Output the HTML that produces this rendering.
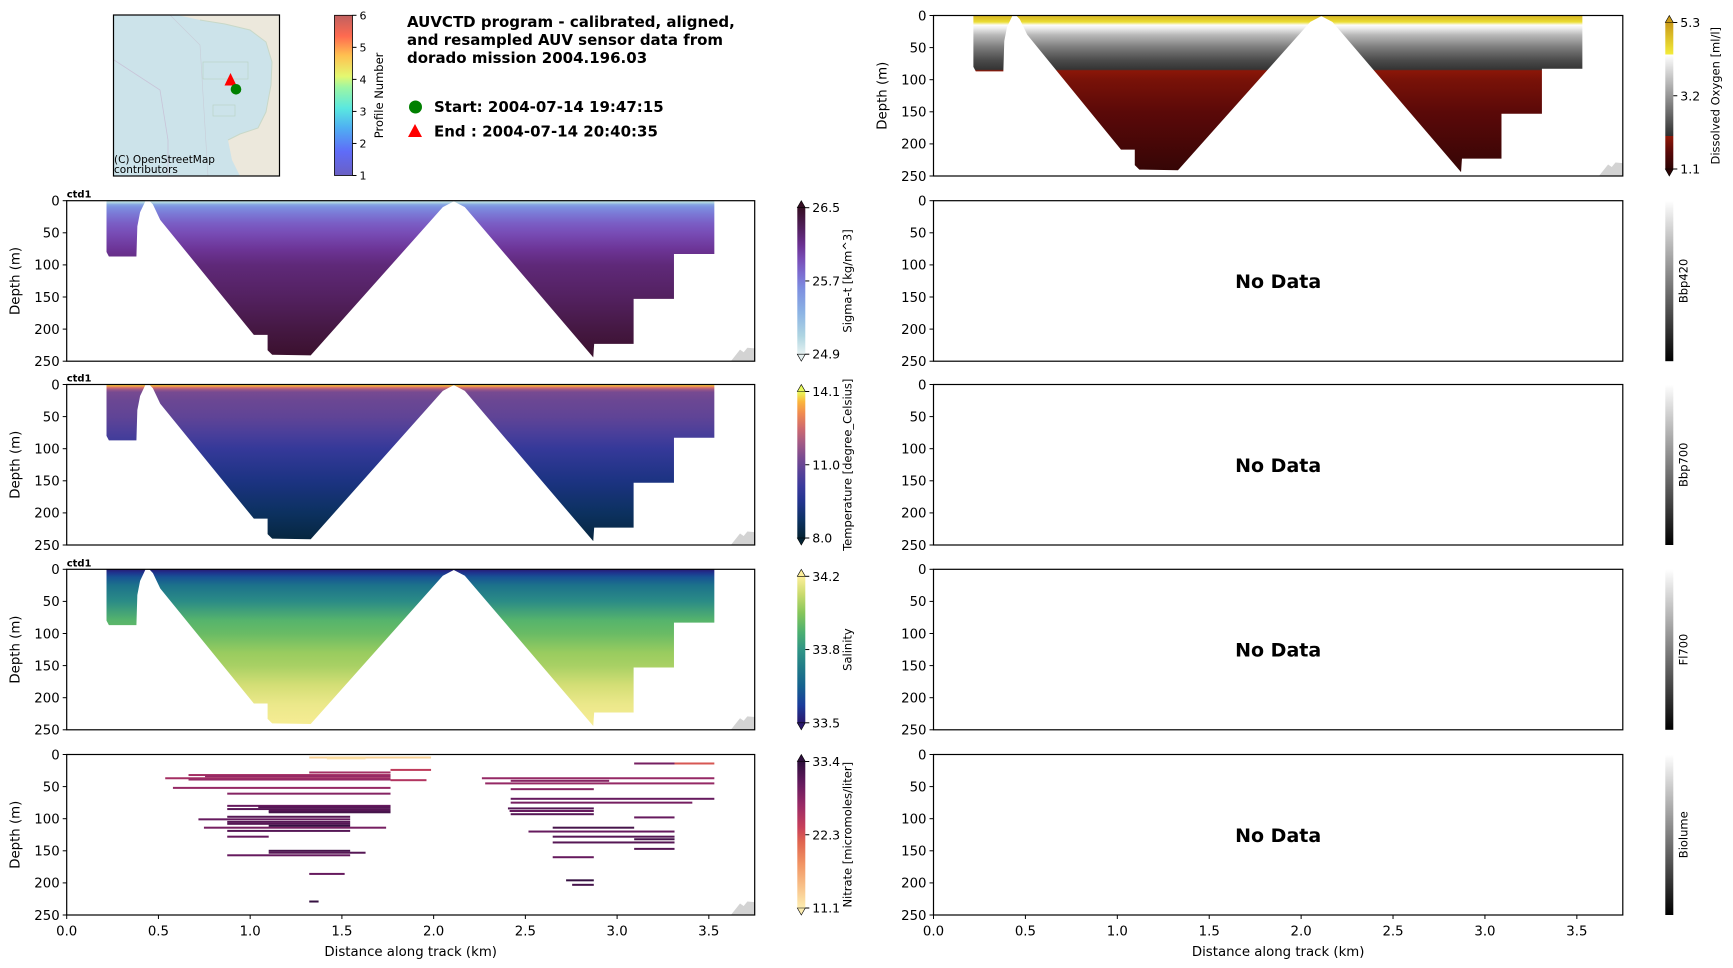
<!DOCTYPE html>
<html><head><meta charset="utf-8">
<style>
html,body{margin:0;padding:0;background:#fff;}
svg{display:block;}
text{font-family:"DejaVu Sans","Liberation Sans",sans-serif;fill:#000;}
</style></head>
<body>
<svg id="fig" xmlns="http://www.w3.org/2000/svg" width="1733" height="968" viewBox="0 0 1733 968">
<defs id="defs"></defs>
<g>
  <rect x="113.5" y="15" width="166" height="161" fill="#cce3ea"/>
  <path d="M177,15 L279.5,15 L279.5,176 L240,176 L232,160 L228,140 L240,134 L258,128 L266,112 L271,85 L272,62 L266,42 L250,30 L225,24 L200,20 Z" fill="#ece8dc"/>
  <path d="M200,20 L225,24 L250,30 L266,42 L272,62 L271,85 L266,112 L258,128 L240,134 L228,140" fill="none" stroke="#c8d8c8" stroke-width="1"/>
  <path d="M114,60 L160,90 L168,140 L168,176" fill="none" stroke="#c8c4d8" stroke-width="0.8"/>
  <path d="M170,15 L200,45 L208,176" fill="none" stroke="#c8cdd8" stroke-width="0.6"/>
  <rect x="203" y="62" width="45" height="17" fill="none" stroke="#b8d0c0" stroke-width="0.6"/>
  <rect x="213" y="105" width="22" height="11" fill="none" stroke="#b8d0c0" stroke-width="0.6"/>
  <rect x="113.5" y="15" width="166" height="161" fill="none" stroke="#000" stroke-width="1.2"/>
  <polygon points="230.5,73 236.5,85.5 224.5,85.5" fill="#ff0000"/>
  <circle cx="236" cy="89.3" r="5.3" fill="#008000"/>
  <text x="114" y="163" font-size="10.5">(C) OpenStreetMap</text>
  <text x="114" y="173" font-size="10.5">contributors</text>
</g>
<g id="profcb"></g>
<g>
  <text x="407" y="27" font-size="15" font-weight="bold">AUVCTD program - calibrated, aligned,</text>
  <text x="407" y="45" font-size="15" font-weight="bold">and resampled AUV sensor data from</text>
  <text x="407" y="63" font-size="15" font-weight="bold">dorado mission 2004.196.03</text>
  <circle cx="415.5" cy="107" r="6.5" fill="#008000"/>
  <text x="434" y="112" font-size="15" font-weight="bold">Start: 2004-07-14 19:47:15</text>
  <polygon points="415,124 422,137 408,137" fill="#ff0000"/>
  <text x="434" y="136.5" font-size="15" font-weight="bold">End  : 2004-07-14 20:40:35</text>
</g>
<g id="plots"></g>
</svg>
<script>
const xTicks = [0.0, 0.5, 1.0, 1.5, 2.0, 2.5, 3.0, 3.5];
const depthTicks = [0, 50, 100, 150, 200, 250];
const leftBlockKm = [0.217, 0.217, 0.23, 0.38, 0.385, 0.40, 0.43];
const leftBlockDepth = [0, 80, 87, 87, 40, 18, 0];
const mainBlockKm = [0.45, 0.47, 0.51, 1.02, 1.095, 1.095, 1.12, 1.33, 2.05, 2.11, 2.17, 2.87, 2.875, 3.09, 3.09, 3.31, 3.31, 3.53, 3.53];
const mainBlockDepth = [0, 6, 30, 209, 209, 233, 240, 241, 10, 1, 10, 244, 223, 223, 153, 153, 83, 83, 0];
const bathyKm = [3.62, 3.67, 3.69, 3.71, 3.75, 3.75];
const bathyDepth = [250, 232, 236, 229, 230, 250];

const sigmaDepths = [0, 3, 6, 10, 20, 35, 50, 75, 100, 150, 200, 245];
const sigmaValues = [25.0, 25.1, 25.45, 25.6, 25.72, 25.85, 25.94, 26.07, 26.18, 26.27, 26.38, 26.47];
const tempDepths = [0, 2, 5, 8, 12, 25, 50, 75, 100, 150, 200, 245];
const tempValues = [14.0, 13.6, 12.6, 11.8, 11.3, 11.1, 10.9, 10.5, 10.0, 9.3, 8.7, 8.15];
const salDepths = [0, 5, 12, 25, 50, 80, 100, 130, 150, 180, 210, 245];
const salValues = [33.51, 33.56, 33.64, 33.73, 33.82, 33.95, 33.98, 34.05, 34.07, 34.13, 34.17, 34.19];
const doDepths = [0, 5, 10, 15, 20, 30, 50, 70, 84, 86, 100, 150, 200, 245];
const doValues = [4.95, 4.8, 4.55, 4.35, 4.15, 3.6, 2.9, 2.35, 2.1, 2.0, 1.85, 1.6, 1.4, 1.2];

const nitStartKm = [1.322,1.418,1.765,1.322,0.664,0.754,0.537,0.664,1.765,0.579,0.875,0.875,1.044,0.875,1.101,1.101,0.875,0.718,0.875,0.748,0.875,1.101,0.875,0.875,1.101,0.875,1.101,1.322,1.322,
  3.093,3.313,2.263,2.420,2.281,2.420,2.420,2.420,2.405,2.414,2.420,3.093,2.649,2.517,2.649,3.093,2.649,3.093,2.649,2.722,2.755];
const nitEndKm = [1.986,1.629,1.986,1.765,1.765,1.765,1.765,1.765,1.961,1.765,1.765,1.765,1.765,1.765,1.765,1.765,1.545,1.545,1.545,1.741,1.545,1.545,1.545,1.101,1.545,1.545,1.629,1.515,1.373,
  3.313,3.530,3.530,2.957,3.530,2.873,3.530,3.410,2.873,2.873,2.873,3.313,3.093,3.313,3.313,3.313,3.313,3.313,2.873,2.873,2.873];
const nitDepth = [4.7,6,24,28,32,34,37,39,40,52,61,80,82,85,88,90,97,101,105,114,108,111,119,128,150,157,153,186,229,
  14,14,37,41,45,54,69,75,84,88,93,98,114,120,128,132,137,147,160,196,203];
const nitValue = [13,12,24,26,26,27,26,27,25,27,28,30,31,31,31,32,31,30,31,29,31,33,31,30,32,30,31,30,33,
  29,22,27,28,27,28,30,29,31,30,31,30,32,30,31,32,31,31,30,33,32];
const profileTicks = [1, 2, 3, 4, 5, 6];

const cmDense = [[0,'#e6f1f1'],[0.12,'#b0d6e2'],[0.28,'#8cb4e4'],[0.45,'#7c8ee0'],[0.55,'#7b6cd0'],[0.65,'#784db6'],[0.75,'#6a3090'],[0.86,'#52205e'],[1,'#360e24']];
const cmThermal = [[0,'#042333'],[0.12,'#0c3262'],[0.25,'#23348f'],[0.35,'#3a3a9c'],[0.45,'#574298'],[0.55,'#7a4b90'],[0.65,'#a35a85'],[0.75,'#cf6a6e'],[0.85,'#f08a50'],[0.93,'#fbb43c'],[1,'#e8fa5b']];
const cmHaline = [[0,'#2a186c'],[0.12,'#1b3c9b'],[0.25,'#15628f'],[0.38,'#217c88'],[0.5,'#309585'],[0.62,'#4cb070'],[0.75,'#86c65a'],[0.88,'#cbdb6e'],[1,'#fdef9a']];
const cmMatter = [[0,'#fdedb0'],[0.15,'#f8c088'],[0.3,'#f19463'],[0.45,'#e0654f'],[0.55,'#c8405a'],[0.7,'#9a2a66'],[0.85,'#651a5e'],[1,'#2f0f3d']];
const cmDO = [[0,'#2b0404'],[0.11,'#560808'],[0.225,'#901808'],[0.2251,'#2f2f2f'],[0.78,'#ffffff'],[0.7801,'#f3ec3a'],[1,'#c99a18']];
const cmProfile = [[0,'#6a60c4'],[0.15,'#5f6cf8'],[0.3,'#4fb0f2'],[0.42,'#5ae8e0'],[0.55,'#9cf6a4'],[0.62,'#e4f870'],[0.75,'#ffc050'],[0.87,'#ff6a50'],[1,'#c06060']];
const cmGray = [[0,'#000000'],[1,'#ffffff']];

function hex2rgb(h){return [parseInt(h.substr(1,2),16),parseInt(h.substr(3,2),16),parseInt(h.substr(5,2),16)];}
function cmap(stops,t){
  t=Math.max(0,Math.min(1,t));
  for(let i=1;i<stops.length;i++){
    if(t<=stops[i][0]){
      const a=stops[i-1],b=stops[i];const f=(t-a[0])/((b[0]-a[0])||1);
      const ca=hex2rgb(a[1]),cb=hex2rgb(b[1]);
      return 'rgb('+ca.map((v,k)=>Math.round(v+(cb[k]-v)*f)).join(',')+')';
    }
  }
  return stops[stops.length-1][1];
}

const NS='http://www.w3.org/2000/svg';
const plots=document.getElementById('plots');
const defs=document.getElementById('defs');
function mk(tag,attrs,parent){const e=document.createElementNS(NS,tag);for(const k in attrs)e.setAttribute(k,attrs[k]);(parent||plots).appendChild(e);return e;}

const rowTops=[15.5,200.7,384.5,569.3,754.5];
const H=160.5;
const LX=66.7, LW=688, RX=933.5, RW=689.3;
const XMAX=3.75, DMAX=250;

function axisFns(x0,w,top){
  return {xs:km=>x0+km/XMAX*w, ys:d=>top+d/DMAX*H};
}
function drawAxes(g,x0,w,top,showX,showYTitle){
  const {xs,ys}=axisFns(x0,w,top);
  depthTicks.forEach(d=>{
    const t=mk('line',{x1:x0-4,x2:x0,y1:ys(d),y2:ys(d),stroke:'#000','stroke-width':1},g);
    
    
    const l=mk('text',{x:x0-7,y:ys(d)+4.8,'font-size':13.3,'text-anchor':'end'},g);
    
    
    l.textContent=d;
  });
  if(showYTitle){
    const yl=mk('text',{x:0,y:0,'font-size':13.3,'text-anchor':'middle',transform:`translate(${x0-47},${top+H/2}) rotate(-90)`},g);
    
    
    yl.textContent='Depth (m)';
  }
  if(showX){
    xTicks.forEach(k=>{
      const t=mk('line',{x1:xs(k),x2:xs(k),y1:top+H,y2:top+H+4,stroke:'#000','stroke-width':1},g);
      
      
      const l=mk('text',{x:xs(k),y:top+H+20.5,'font-size':13.3,'text-anchor':'middle'},g);
      
      
      l.textContent=k.toFixed(1);
    });
    const xl=mk('text',{x:x0+w/2,y:top+H+41,'font-size':13.3,'text-anchor':'middle'},g);
    
    
    xl.textContent='Distance along track (km)';
  }
}
function frame(g,x0,w,top){
  const r=mk('rect',{x:x0,y:top,width:w,height:H,fill:'none',stroke:'#000','stroke-width':1.2},g);
  
  
}
function poly(xs,ys,kms,ds){return kms.map((k,i)=>xs(k).toFixed(2)+','+ys(ds[i]).toFixed(2)).join(' ');}

let gid=0;
function sectionPanel(name,x0,w,top,depths,vals,stops,vmin,vmax){
  const g=mk('g',{});
  
  
  const {xs,ys}=axisFns(x0,w,top);
  const id='grad'+(gid++);
  const lg=mk('linearGradient',{id:id,gradientUnits:'userSpaceOnUse',x1:0,x2:0,y1:ys(0),y2:ys(DMAX)},defs);
  depths.forEach((d,i)=>{
    mk('stop',{offset:(d/DMAX).toFixed(4),'stop-color':cmap(stops,(vals[i]-vmin)/(vmax-vmin))},lg);
  });
  const a=mk('polygon',{points:poly(xs,ys,leftBlockKm,leftBlockDepth),fill:`url(#${id})`},g);
  
  
  const b=mk('polygon',{points:poly(xs,ys,mainBlockKm,mainBlockDepth),fill:`url(#${id})`},g);
  
  
  const c=mk('polygon',{points:poly(xs,ys,bathyKm,bathyDepth),fill:'#d3d3d3'},g);
  
  
  frame(g,x0,w,top);
  return g;
}
function label(g,x0,top){
  const t=mk('text',{x:x0,y:top-3,'font-size':10,'font-weight':'bold'},g);
  
  
  t.textContent='ctd1';
}
function colorbar(name,cx,top,stops,ticks,tickPos,title,extend){
  const g=mk('g',{});
  
  
  const w=8; const tri=extend?7:0;
  const y0=top+tri, y1=top+H-tri;
  const id='cb'+(gid++);
  const lg=mk('linearGradient',{id:id,x1:0,x2:0,y1:1,y2:0},defs);
  stops.forEach(s=>mk('stop',{offset:s[0],'stop-color':s[1]},lg));
  mk('rect',{x:cx,y:y0,width:w,height:y1-y0,fill:`url(#${id})`},g);
  if(extend){
    mk('polygon',{points:`${cx},${y0} ${cx+w/2},${top} ${cx+w},${y0}`,fill:stops[stops.length-1][1],stroke:'#000','stroke-width':0.6},g);
    mk('polygon',{points:`${cx},${y1} ${cx+w/2},${top+H} ${cx+w},${y1}`,fill:stops[0][1],stroke:'#000','stroke-width':0.6},g);
  }
  ticks.forEach((t,i)=>{
    const y=y1-(y1-y0)*tickPos[i];
    mk('line',{x1:cx+w,x2:cx+w+4,y1:y,y2:y,stroke:'#000','stroke-width':1},g);
    const l=mk('text',{x:cx+w+7,y:y+4.5,'font-size':12.5},g);
    
    
    l.textContent=t;
  });
  const tl=mk('text',{x:0,y:0,'font-size':11.5,'text-anchor':'middle',transform:`translate(${cx+(ticks.length?54:22)},${top+H/2}) rotate(-90)`},g);
  
  
  tl.textContent=title;
}

{
  const g=sectionPanel('dissolved-oxygen',RX,RW,rowTops[0],doDepths,doValues,cmDO,1.1,5.3);
  drawAxes(g,RX,RW,rowTops[0],false,true);
}
{
  const g=sectionPanel('sigma-t',LX,LW,rowTops[1],sigmaDepths,sigmaValues,cmDense,24.9,26.5);
  drawAxes(g,LX,LW,rowTops[1],false,true); label(g,LX,rowTops[1]);
  const g2=sectionPanel('temperature',LX,LW,rowTops[2],tempDepths,tempValues,cmThermal,8.0,14.1);
  drawAxes(g2,LX,LW,rowTops[2],false,true); label(g2,LX,rowTops[2]);
  const g3=sectionPanel('salinity',LX,LW,rowTops[3],salDepths,salValues,cmHaline,33.5,34.2);
  drawAxes(g3,LX,LW,rowTops[3],false,true); label(g3,LX,rowTops[3]);
}
{
  const top=rowTops[4];
  const g=mk('g',{});
  
  
  const {xs,ys}=axisFns(LX,LW,top);
  nitStartKm.forEach((k,i)=>{
    const r=mk('rect',{x:xs(k),y:ys(nitDepth[i])-1,width:xs(nitEndKm[i])-xs(k),height:2,fill:cmap(cmMatter,(nitValue[i]-11.1)/(33.4-11.1))},g);
    
    
  });
  const c=mk('polygon',{points:poly(xs,ys,bathyKm,bathyDepth),fill:'#d3d3d3'},g);
  
  
  frame(g,LX,LW,top);
  drawAxes(g,LX,LW,top,true,true);
}
const noDataNames=['Bbp420','Bbp700','Fl700','Biolume'];
noDataNames.forEach((n,i)=>{
  const top=rowTops[i+1];
  const g=mk('g',{});
  
  
  frame(g,RX,RW,top);
  drawAxes(g,RX,RW,top,i===3,false);
  const t=mk('text',{x:RX+RW/2,y:top+H/2+7,'font-size':19,'font-weight':'bold','text-anchor':'middle'},g);
  
  
  t.textContent='No Data';
  colorbar(n.toLowerCase(),1665.3,top,cmGray,[],[],n,false);
});

colorbar('dissolved-oxygen',1665.3,rowTops[0],cmDO,['5.3','3.2','1.1'],[1,0.5,0],'Dissolved Oxygen [ml/l]',true);
colorbar('sigma-t',797.3,rowTops[1],cmDense,['26.5','25.7','24.9'],[1,0.5,0],'Sigma-t [kg/m^3]',true);
colorbar('temperature',797.3,rowTops[2],cmThermal,['14.1','11.0','8.0'],[1,0.5,0],'Temperature [degree_Celsius]',true);
colorbar('salinity',797.3,rowTops[3],cmHaline,['34.2','33.8','33.5'],[1,0.5,0],'Salinity',true);
colorbar('nitrate',797.3,rowTops[4],cmMatter,['33.4','22.3','11.1'],[1,0.5,0],'Nitrate [micromoles/liter]',true);

{
  const g=document.getElementById('profcb');
  const id='pcb';
  const lg=mk('linearGradient',{id:id,x1:0,x2:0,y1:1,y2:0},defs);
  cmProfile.forEach(s=>mk('stop',{offset:s[0],'stop-color':s[1]},lg));
  const top=15.3,bot=175.5,cx=334.5,w=18;
  mk('rect',{x:cx,y:top,width:w,height:bot-top,fill:`url(#${id})`,stroke:'#000','stroke-width':0.8},g);
  profileTicks.forEach(p=>{
    const y=bot-(bot-top)*(p-1)/5;
    mk('line',{x1:cx+w,x2:cx+w+4,y1:y,y2:y,stroke:'#000','stroke-width':1},g);
    const l=mk('text',{x:cx+w+7,y:y+4,'font-size':11},g);
    
    
    l.textContent=p;
  });
  const tl=mk('text',{x:0,y:0,'font-size':11.5,'text-anchor':'middle',transform:`translate(383,${(top+bot)/2}) rotate(-90)`},g);
  
  
  tl.textContent='Profile Number';
}
</script>
</body></html>
